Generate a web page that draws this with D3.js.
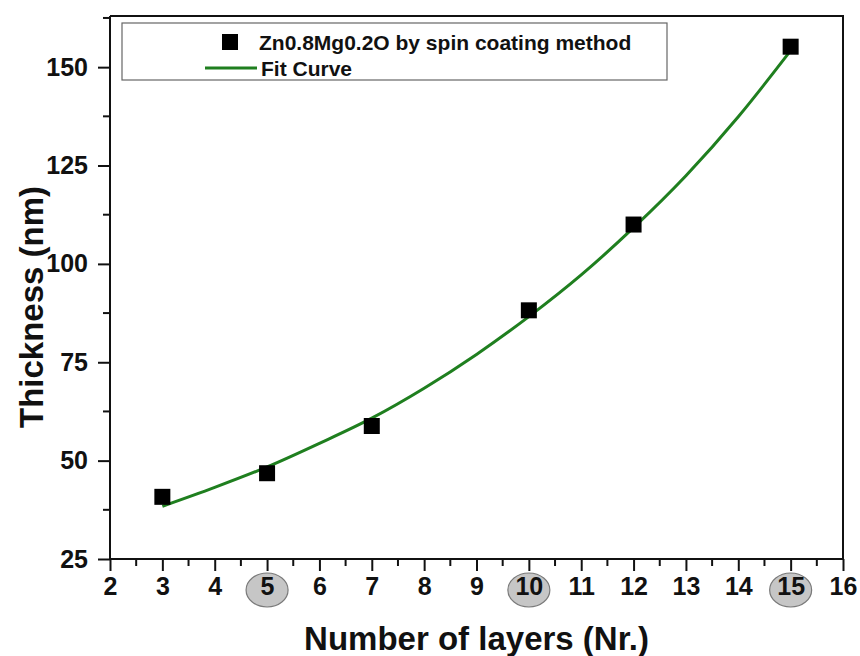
<!DOCTYPE html>
<html lang="en">
<head>
  <meta charset="UTF-8">
  <title>Thickness vs Number of layers</title>
  <script src="https://d3js.org/d3.v7.min.js"></script>
  <style>
    body {
      margin: 0;
      background: #fff;
      font-family: Arial, "Liberation Sans", sans-serif;
    }
    .tick text {
      font-weight: bold;
      font-size: 25px;
      fill: #111;
    }
    .axis path, .axis line {
      stroke: #111;
      stroke-width: 2px;
    }
    .label {
      font-weight: bold;
      font-size: 33px;
      fill: #111;
    }
    .legend text {
      font-weight: bold;
      font-size: 21px;
      fill: #111;
    }
  </style>
</head>
<body>
  <div id="chart"></div>

  <script>
    // measured points
    const layers = [3, 5, 7, 10, 12, 15];
    const thickness = [40.8, 46.8, 58.8, 88.2, 110.0, 155.2];

    // fit curve at each layer count
    const fitX = [3, 4, 5, 6, 7, 8, 9, 10, 11, 12, 13, 14, 15];
    const fitY = [38.4, 43.2, 48.4, 54.4, 60.8, 68.4, 77.0, 86.6, 97.2, 109.2, 122.4, 137.4, 154.2];

    const xTicks = [2, 3, 4, 5, 6, 7, 8, 9, 10, 11, 12, 13, 14, 15, 16];
    const yTicks = [25, 50, 75, 100, 125, 150];
    const circled = [5, 10, 15];

    const width = 860, height = 656;
    const plot = { left: 110, right: 843, top: 16, bottom: 559 };

    const svg = d3.select("#chart").append("svg")
      .attr("width", width)
      .attr("height", height);

    const x = d3.scaleLinear().domain([2, 16]).range([plot.left, plot.right]);
    const y = d3.scaleLinear().domain([25, 163]).range([plot.bottom, plot.top]);

    // frame (top + right)
    svg.append("path")
      .attr("d", `M${plot.left},${plot.top}H${plot.right}V${plot.bottom}`)
      .attr("fill", "none")
      .attr("stroke", "#111")
      .attr("stroke-width", 2);

    // minor ticks
    const xMinor = d3.range(2.5, 16, 1);
    svg.append("g").selectAll("line")
      .data(xMinor)
      .enter().append("line")
      .attr("x1", d => x(d)).attr("x2", d => x(d))
      .attr("y1", plot.bottom).attr("y2", plot.bottom + 7)
      .attr("stroke", "#111").attr("stroke-width", 2);

    const yMinor = d3.range(37.5, 163, 25);
    svg.append("g").selectAll("line")
      .data(yMinor)
      .enter().append("line")
      .attr("x1", plot.left).attr("x2", plot.left - 7)
      .attr("y1", d => y(d)).attr("y2", d => y(d))
      .attr("stroke", "#111").attr("stroke-width", 2);

    // grey ellipses behind selected x labels
    svg.append("g").selectAll("ellipse")
      .data(circled)
      .enter().append("ellipse")
      .attr("cx", d => x(d))
      .attr("cy", 590)
      .attr("rx", 21)
      .attr("ry", 17)
      .attr("fill", "#c6c6c6")
      .attr("stroke", "#7a7a7a")
      .attr("stroke-width", 1.2);

    const xAxis = svg.append("g")
      .attr("class", "axis")
      .attr("transform", `translate(0,${plot.bottom})`)
      .call(d3.axisBottom(x).tickValues(xTicks).tickSize(12).tickSizeOuter(0).tickPadding(6));

    const yAxis = svg.append("g")
      .attr("class", "axis")
      .attr("transform", `translate(${plot.left},0)`)
      .call(d3.axisLeft(y).tickValues(yTicks).tickSize(12).tickSizeOuter(0).tickPadding(10));
    yAxis.select(".domain").attr("d", `M0,${plot.bottom}V${plot.top}`);
    xAxis.select(".domain").attr("d", `M${plot.left},0H${plot.right}`);

    // axis titles
    svg.append("text")
      .attr("class", "label")
      .attr("x", (plot.left + plot.right) / 2)
      .attr("y", 650)
      .attr("text-anchor", "middle")
      .text("Number of layers (Nr.)");

    svg.append("text")
      .attr("class", "label")
      .attr("transform", "translate(43,307) rotate(-90)")
      .attr("text-anchor", "middle")
      .text("Thickness (nm)");

    // fit curve
    const fit = fitX.map((v, i) => [v, fitY[i]]);
    svg.append("path")
      .datum(fit)
      .attr("fill", "none")
      .attr("stroke", "#1f7f1f")
      .attr("stroke-width", 3)
      .attr("d", d3.line().x(d => x(d[0])).y(d => y(d[1])).curve(d3.curveMonotoneX));

    // points
    svg.append("g").selectAll("rect")
      .data(layers)
      .enter().append("rect")
      .attr("x", d => x(d) - 8)
      .attr("y", (d, i) => y(thickness[i]) - 8)
      .attr("width", 16)
      .attr("height", 16)
      .attr("fill", "#000");

    // legend
    const legend = svg.append("g").attr("class", "legend");
    legend.append("rect")
      .attr("x", 122).attr("y", 23)
      .attr("width", 545).attr("height", 57)
      .attr("fill", "#fff")
      .attr("stroke", "#666")
      .attr("stroke-width", 1.2);
    legend.append("rect")
      .attr("x", 222).attr("y", 34)
      .attr("width", 16).attr("height", 16)
      .attr("fill", "#000");
    legend.append("text")
      .attr("x", 259).attr("y", 50)
      .text("Zn0.8Mg0.2O by spin coating method");
    legend.append("line")
      .attr("x1", 205).attr("x2", 257)
      .attr("y1", 68).attr("y2", 68)
      .attr("stroke", "#1f7f1f")
      .attr("stroke-width", 3);
    legend.append("text")
      .attr("x", 261).attr("y", 76)
      .text("Fit Curve");
  </script>
</body>
</html>
